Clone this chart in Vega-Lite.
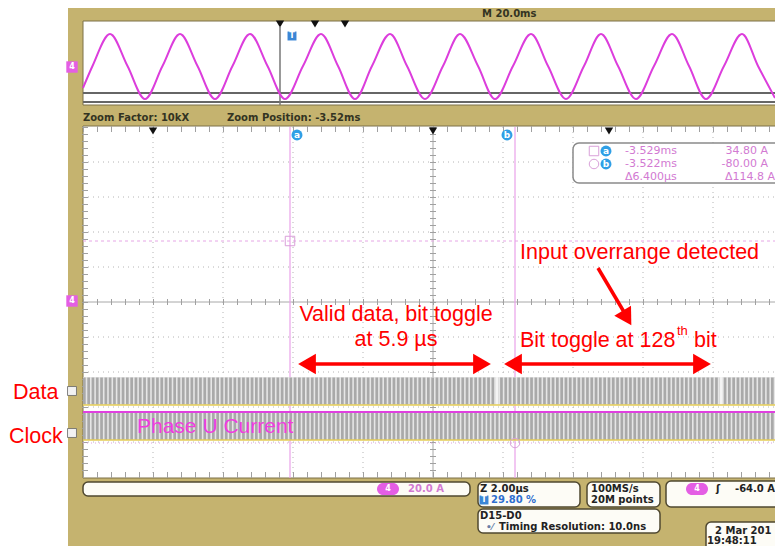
{
  "$schema": "https://vega.github.io/schema/vega-lite/v6.json",
  "width": 775,
  "height": 546,
  "autosize": {"type": "none"},
  "padding": 0,
  "background": "white",
  "config": {"view": {"stroke": null}},
  "encoding": {
    "x": {"field": "x", "type": "quantitative", "scale": {"domain": [0, 775], "nice": false, "zero": false}, "axis": null},
    "y": {"field": "y", "type": "quantitative", "scale": {"domain": [0, 546], "nice": false, "zero": false, "reverse": true}, "axis": null}
  },
  "layer": [
    {"data": {"values": [{"x": 68, "y": 8, "x2": 780, "y2": 550}]},
     "mark": {"type": "rect", "fill": "#c5b36f"},
     "encoding": {"x2": {"field": "x2"}, "y2": {"field": "y2"}}},
    {"data": {"values": [{"x": 83, "y": 21, "x2": 790, "y2": 105}, {"x": 83, "y": 126, "x2": 790, "y2": 478}]},
     "mark": {"type": "rect", "fill": "white", "stroke": "#7d7048", "strokeWidth": 1},
     "encoding": {"x2": {"field": "x2"}, "y2": {"field": "y2"}}},
    {"data": {"values": [
      {"x": 83, "y": 482, "x2": 470, "y2": 496},
      {"x": 478, "y": 482, "x2": 580, "y2": 507},
      {"x": 587, "y": 482, "x2": 660, "y2": 507},
      {"x": 666, "y": 481, "x2": 800, "y2": 507},
      {"x": 478, "y": 509, "x2": 660, "y2": 533},
      {"x": 706, "y": 522, "x2": 800, "y2": 560}]},
     "mark": {"type": "rect", "fill": "#fdfcf6", "stroke": "#4f4830", "strokeWidth": 1.5, "cornerRadius": 5},
     "encoding": {"x2": {"field": "x2"}, "y2": {"field": "y2"}}},
    {"data": {"values": [{"x": 153, "y": 127, "y2": 477}, {"x": 223, "y": 127, "y2": 477}, {"x": 293, "y": 127, "y2": 477}, {"x": 363, "y": 127, "y2": 477}, {"x": 503, "y": 127, "y2": 477}, {"x": 573, "y": 127, "y2": 477}, {"x": 643, "y": 127, "y2": 477}, {"x": 713, "y": 127, "y2": 477}]},
     "mark": {"type": "rule", "color": "#b4b4b4", "strokeWidth": 1, "strokeDash": [1, 4]},
     "encoding": {"y2": {"field": "y2"}}},
    {"data": {"values": [{"y": 162, "x": 83, "x2": 775}, {"y": 197, "x": 83, "x2": 775}, {"y": 232, "x": 83, "x2": 775}, {"y": 267, "x": 83, "x2": 775}, {"y": 337, "x": 83, "x2": 775}, {"y": 372, "x": 83, "x2": 775}, {"y": 407, "x": 83, "x2": 775}, {"y": 442, "x": 83, "x2": 775}]},
     "mark": {"type": "rule", "color": "#b4b4b4", "strokeWidth": 1, "strokeDash": [1, 4]},
     "encoding": {"x2": {"field": "x2"}}},
    {"data": {"values": [{"x": 433, "y": 127, "y2": 477}]},
     "mark": {"type": "rule", "color": "#a8a8a8", "strokeWidth": 1},
     "encoding": {"y2": {"field": "y2"}}},
    {"data": {"values": [{"x": 83, "y": 302, "x2": 775}]},
     "mark": {"type": "rule", "color": "#a8a8a8", "strokeWidth": 1},
     "encoding": {"x2": {"field": "x2"}}},
    {"data": {"values": [{"x": 433, "y": 127, "y2": 477}, {"x": 85, "y": 127, "y2": 477}]},
     "mark": {"type": "rule", "color": "#a0a0a0", "strokeWidth": 6, "strokeDash": [1, 6]},
     "encoding": {"y2": {"field": "y2"}}},
    {"data": {"values": [{"x": 83, "y": 302, "x2": 775}, {"x": 83, "y": 475, "x2": 775}, {"x": 83, "y": 129, "x2": 775}]},
     "mark": {"type": "rule", "color": "#a0a0a0", "strokeWidth": 6, "strokeDash": [1, 13]},
     "encoding": {"x2": {"field": "x2"}}},
    {"data": {"values": [{"x": 83, "y": 241, "x2": 775}]},
     "mark": {"type": "rule", "color": "#e6a6e6", "strokeWidth": 1, "strokeDash": [3, 3]},
     "encoding": {"x2": {"field": "x2"}}},
    {"data": {"values": [{"x": 290, "y": 127, "y2": 478}, {"x": 515, "y": 127, "y2": 478}]},
     "mark": {"type": "rule", "color": "#e9a2e9", "strokeWidth": 1.2},
     "encoding": {"y2": {"field": "y2"}}},
    {"data": {"values": [{"x": 573, "y": 143, "x2": 800, "y2": 183}]},
     "mark": {"type": "rect", "fill": "white", "stroke": "#8a8a8a", "strokeWidth": 1.5, "cornerRadius": 6},
     "encoding": {"x2": {"field": "x2"}, "y2": {"field": "y2"}}},
    {"data": {"values": [{"x": 83, "y": 93, "x2": 775}, {"x": 83, "y": 102, "x2": 775}]},
     "mark": {"type": "rule", "color": "#666666", "strokeWidth": 2},
     "encoding": {"x2": {"field": "x2"}}},
    {"data": {"values": [{"x": 280, "y": 27, "y2": 105}]},
     "mark": {"type": "rule", "color": "#777777", "strokeWidth": 1.5},
     "encoding": {"y2": {"field": "y2"}}},
    {"data": {"values": [
      {"x": 83, "y": 88}, {"x": 92.5, "y": 66}, {"x": 110, "y": 34}, {"x": 127.5, "y": 66}, {"x": 145, "y": 99},
      {"x": 162.5, "y": 66}, {"x": 180, "y": 34}, {"x": 197.5, "y": 66}, {"x": 215, "y": 99}, {"x": 232.5, "y": 66},
      {"x": 250, "y": 34}, {"x": 267.5, "y": 66}, {"x": 285, "y": 99}, {"x": 303, "y": 66}, {"x": 321, "y": 34},
      {"x": 338, "y": 66}, {"x": 355, "y": 99}, {"x": 372, "y": 66}, {"x": 390, "y": 34}, {"x": 407, "y": 66},
      {"x": 425, "y": 99}, {"x": 443, "y": 66}, {"x": 460, "y": 34}, {"x": 478, "y": 66}, {"x": 495, "y": 99},
      {"x": 513, "y": 66}, {"x": 531, "y": 34}, {"x": 548, "y": 66}, {"x": 566, "y": 99}, {"x": 584, "y": 66},
      {"x": 601, "y": 34}, {"x": 618, "y": 66}, {"x": 636, "y": 99}, {"x": 654, "y": 66}, {"x": 672, "y": 34},
      {"x": 689, "y": 66}, {"x": 706, "y": 99}, {"x": 724, "y": 66}, {"x": 742, "y": 34}, {"x": 758, "y": 66},
      {"x": 775, "y": 98}]},
     "mark": {"type": "line", "color": "#dc3ddc", "strokeWidth": 2, "interpolate": "monotone"},
     "encoding": {}},
    {"data": {"values": [{"x": 83, "y": 377, "x2": 790, "y2": 405}, {"x": 83, "y": 413, "x2": 790, "y2": 440}]},
     "mark": {"type": "rect", "fill": "#e6e6e6"},
     "encoding": {"x2": {"field": "x2"}, "y2": {"field": "y2"}}},
    {"data": {"values": [{"x": 83, "y": 391, "x2": 790}, {"x": 83, "y": 426.5, "x2": 790}]},
     "mark": {"type": "rule", "color": "#a9a9a9", "strokeWidth": 27, "strokeDash": [2.7, 1.6]},
     "encoding": {"x2": {"field": "x2"}}},
    {"data": {"values": [{"x": 497, "y": 377, "y2": 405}, {"x": 721, "y": 377, "y2": 405}]},
     "mark": {"type": "rule", "color": "#f4f4f4", "strokeWidth": 3},
     "encoding": {"y2": {"field": "y2"}}},
    {"data": {"values": [{"x": 83, "y": 405, "x2": 790}, {"x": 83, "y": 440, "x2": 790}]},
     "mark": {"type": "rule", "color": "#e5cc55", "strokeWidth": 1.5},
     "encoding": {"x2": {"field": "x2"}}},
    {"data": {"values": [{"x": 83, "y": 412, "x2": 790}]},
     "mark": {"type": "rule", "color": "#e040e0", "strokeWidth": 2},
     "encoding": {"x2": {"field": "x2"}}},
    {"data": {"values": [{"x": 83, "y": 443, "x2": 790}]},
     "mark": {"type": "rule", "color": "#e0a0e0", "strokeWidth": 1, "strokeDash": [1, 3]},
     "encoding": {"x2": {"field": "x2"}}},
    {"data": {"values": [{"x": 306, "y": 364, "x2": 484}, {"x": 512, "y": 364, "x2": 703}]},
     "mark": {"type": "rule", "color": "#ff0000", "strokeWidth": 3.5},
     "encoding": {"x2": {"field": "x2"}}},
    {"data": {"values": [{"x": 598, "y": 268, "x2": 624, "y2": 312}]},
     "mark": {"type": "rule", "color": "#ff0000", "strokeWidth": 3.5},
     "encoding": {"x2": {"field": "x2"}, "y2": {"field": "y2"}}},
    {"data": {"values": [{"x": 307, "y": 364}, {"x": 513, "y": 364}]},
     "mark": {"type": "point", "shape": "triangle-left", "size": 420, "filled": true, "color": "#ff0000", "opacity": 1},
     "encoding": {}},
    {"data": {"values": [{"x": 482, "y": 364}, {"x": 702, "y": 364}]},
     "mark": {"type": "point", "shape": "triangle-right", "size": 420, "filled": true, "color": "#ff0000", "opacity": 1},
     "encoding": {}},
    {"data": {"values": [{"x": 627, "y": 318}]},
     "mark": {"type": "point", "shape": "triangle-up", "size": 380, "filled": true, "color": "#ff0000", "opacity": 1, "angle": 149},
     "encoding": {}},
    {"data": {"values": [{"x": 280, "y": 24}, {"x": 315, "y": 24}, {"x": 345, "y": 24}, {"x": 153, "y": 131}, {"x": 433, "y": 131}, {"x": 609, "y": 131}]},
     "mark": {"type": "point", "shape": "triangle-down", "size": 70, "filled": true, "color": "#111111", "opacity": 1},
     "encoding": {}},
    {"data": {"values": [{"x": 297, "y": 135}, {"x": 507, "y": 135}, {"x": 606, "y": 151}, {"x": 606, "y": 164}]},
     "mark": {"type": "point", "shape": "circle", "size": 120, "filled": true, "color": "#2f9fe6", "opacity": 1},
     "encoding": {}},
    {"data": {"values": [{"x": 297, "y": 135, "t": "a"}, {"x": 507, "y": 135, "t": "b"}, {"x": 606, "y": 151, "t": "a"}, {"x": 606, "y": 164, "t": "b"}]},
     "mark": {"type": "text", "color": "white", "font": "DejaVu Sans", "fontSize": 9, "fontWeight": "bold", "align": "center", "baseline": "middle"},
     "encoding": {"text": {"field": "t"}}},
    {"data": {"values": [{"x": 594, "y": 151}, {"x": 290, "y": 241}]},
     "mark": {"type": "point", "shape": "square", "size": 90, "filled": false, "color": "#d9a0d9", "strokeWidth": 1, "opacity": 1},
     "encoding": {}},
    {"data": {"values": [{"x": 594, "y": 164}, {"x": 515, "y": 443}]},
     "mark": {"type": "point", "shape": "circle", "size": 90, "filled": false, "color": "#d9a0d9", "strokeWidth": 1, "opacity": 1},
     "encoding": {}},
    {"data": {"values": [{"x": 292, "y": 36}, {"x": 484, "y": 500}]},
     "mark": {"type": "point", "shape": "square", "size": 80, "filled": true, "color": "#3a86d6", "opacity": 1},
     "encoding": {}},
    {"data": {"values": [{"x": 292, "y": 36, "t": "T"}, {"x": 484, "y": 500, "t": "T"}]},
     "mark": {"type": "text", "color": "white", "font": "DejaVu Sans", "fontSize": 8, "fontWeight": "bold", "align": "center", "baseline": "middle"},
     "encoding": {"text": {"field": "t"}}},
    {"data": {"values": [{"x": 72, "y": 67}, {"x": 72, "y": 301}]},
     "mark": {"type": "point", "shape": "square", "size": 130, "filled": true, "color": "#e45ee4", "opacity": 1},
     "encoding": {}},
    {"data": {"values": [{"x": 377, "y": 483, "x2": 399, "y2": 495}, {"x": 686, "y": 483, "x2": 708, "y2": 495}]},
     "mark": {"type": "rect", "fill": "#e45ee4", "cornerRadius": 6},
     "encoding": {"x2": {"field": "x2"}, "y2": {"field": "y2"}}},
    {"data": {"values": [{"x": 72, "y": 67, "t": "4"}, {"x": 72, "y": 301, "t": "4"}, {"x": 388, "y": 489, "t": "4"}, {"x": 697, "y": 489, "t": "4"}]},
     "mark": {"type": "text", "color": "white", "font": "DejaVu Sans", "fontSize": 8, "fontWeight": "bold", "align": "center", "baseline": "middle"},
     "encoding": {"text": {"field": "t"}}},
    {"data": {"values": [{"x": 72, "y": 391}, {"x": 72, "y": 433}]},
     "mark": {"type": "point", "shape": "square", "size": 80, "filled": true, "color": "#f2f2f2", "stroke": "#666666", "strokeWidth": 0.8, "opacity": 1},
     "encoding": {}},
    {"data": {"values": [{"x": 482, "y": 14, "t": "M 20.0ms"}, {"x": 83, "y": 118, "t": "Zoom Factor: 10kX"}, {"x": 227, "y": 118, "t": "Zoom Position: -3.52ms"}]},
     "mark": {"type": "text", "color": "#333322", "font": "DejaVu Sans", "fontSize": 10, "fontWeight": "bold", "align": "left", "baseline": "middle"},
     "encoding": {"text": {"field": "t"}}},
    {"data": {"values": [
      {"x": 480, "y": 489, "t": "Z 2.00µs"}, {"x": 591, "y": 489, "t": "100MS/s"}, {"x": 591, "y": 500, "t": "20M points"},
      {"x": 480, "y": 516, "t": "D15-D0"}, {"x": 499, "y": 527, "t": "Timing Resolution: 10.0ns"},
      {"x": 716, "y": 489, "t": "ʃ"}, {"x": 735, "y": 489, "t": "-64.0 A"},
      {"x": 715, "y": 531, "t": "2 Mar 201"}, {"x": 707, "y": 541, "t": "19:48:11"}]},
     "mark": {"type": "text", "color": "#222222", "font": "DejaVu Sans", "fontSize": 10, "fontWeight": "bold", "align": "left", "baseline": "middle"},
     "encoding": {"text": {"field": "t"}}},
    {"data": {"values": [{"x": 486, "y": 527, "t": "•⁄"}]},
     "mark": {"type": "text", "color": "#6a7fa8", "font": "DejaVu Sans", "fontSize": 9, "fontWeight": "bold", "align": "left", "baseline": "middle"},
     "encoding": {"text": {"field": "t"}}},
    {"data": {"values": [{"x": 491, "y": 500, "t": "29.80 %"}]},
     "mark": {"type": "text", "color": "#2e6fd0", "font": "DejaVu Sans", "fontSize": 10, "fontWeight": "bold", "align": "left", "baseline": "middle"},
     "encoding": {"text": {"field": "t"}}},
    {"data": {"values": [{"x": 408, "y": 489, "t": "20.0 A"}]},
     "mark": {"type": "text", "color": "#d27ad2", "font": "DejaVu Sans", "fontSize": 10, "fontWeight": "bold", "align": "left", "baseline": "middle"},
     "encoding": {"text": {"field": "t"}}},
    {"data": {"values": [{"x": 625, "y": 151, "t": "-3.529ms"}, {"x": 625, "y": 164, "t": "-3.522ms"}, {"x": 625, "y": 177, "t": "Δ6.400µs"}]},
     "mark": {"type": "text", "color": "#d27ad2", "font": "DejaVu Sans", "fontSize": 11, "align": "left", "baseline": "middle"},
     "encoding": {"text": {"field": "t"}}},
    {"data": {"values": [{"x": 768, "y": 151, "t": "34.80 A"}, {"x": 768, "y": 164, "t": "-80.00 A"}, {"x": 775, "y": 177, "t": "Δ114.8 A"}]},
     "mark": {"type": "text", "color": "#d27ad2", "font": "DejaVu Sans", "fontSize": 11, "align": "right", "baseline": "middle"},
     "encoding": {"text": {"field": "t"}}},
    {"data": {"values": [{"x": 520, "y": 253, "t": "Input overrange detected"}, {"x": 520, "y": 341, "t": "Bit toggle at 128"}, {"x": 694, "y": 341, "t": "bit"}, {"x": 13, "y": 393, "t": "Data"}, {"x": 9, "y": 437, "t": "Clock"}]},
     "mark": {"type": "text", "color": "#ff0000", "font": "Liberation Sans", "fontSize": 21.5, "align": "left", "baseline": "middle"},
     "encoding": {"text": {"field": "t"}}},
    {"data": {"values": [{"x": 677, "y": 331, "t": "th"}]},
     "mark": {"type": "text", "color": "#ff0000", "font": "Liberation Sans", "fontSize": 13, "align": "left", "baseline": "middle"},
     "encoding": {"text": {"field": "t"}}},
    {"data": {"values": [{"x": 396, "y": 315, "t": "Valid data, bit toggle"}, {"x": 396, "y": 340, "t": "at 5.9 µs"}]},
     "mark": {"type": "text", "color": "#ff0000", "font": "Liberation Sans", "fontSize": 21.5, "align": "center", "baseline": "middle"},
     "encoding": {"text": {"field": "t"}}},
    {"data": {"values": [{"x": 137, "y": 427, "t": "Phase U Current"}]},
     "mark": {"type": "text", "color": "#f03ce0", "font": "Liberation Sans", "fontSize": 21, "align": "left", "baseline": "middle"},
     "encoding": {"text": {"field": "t"}}}
  ]
}
